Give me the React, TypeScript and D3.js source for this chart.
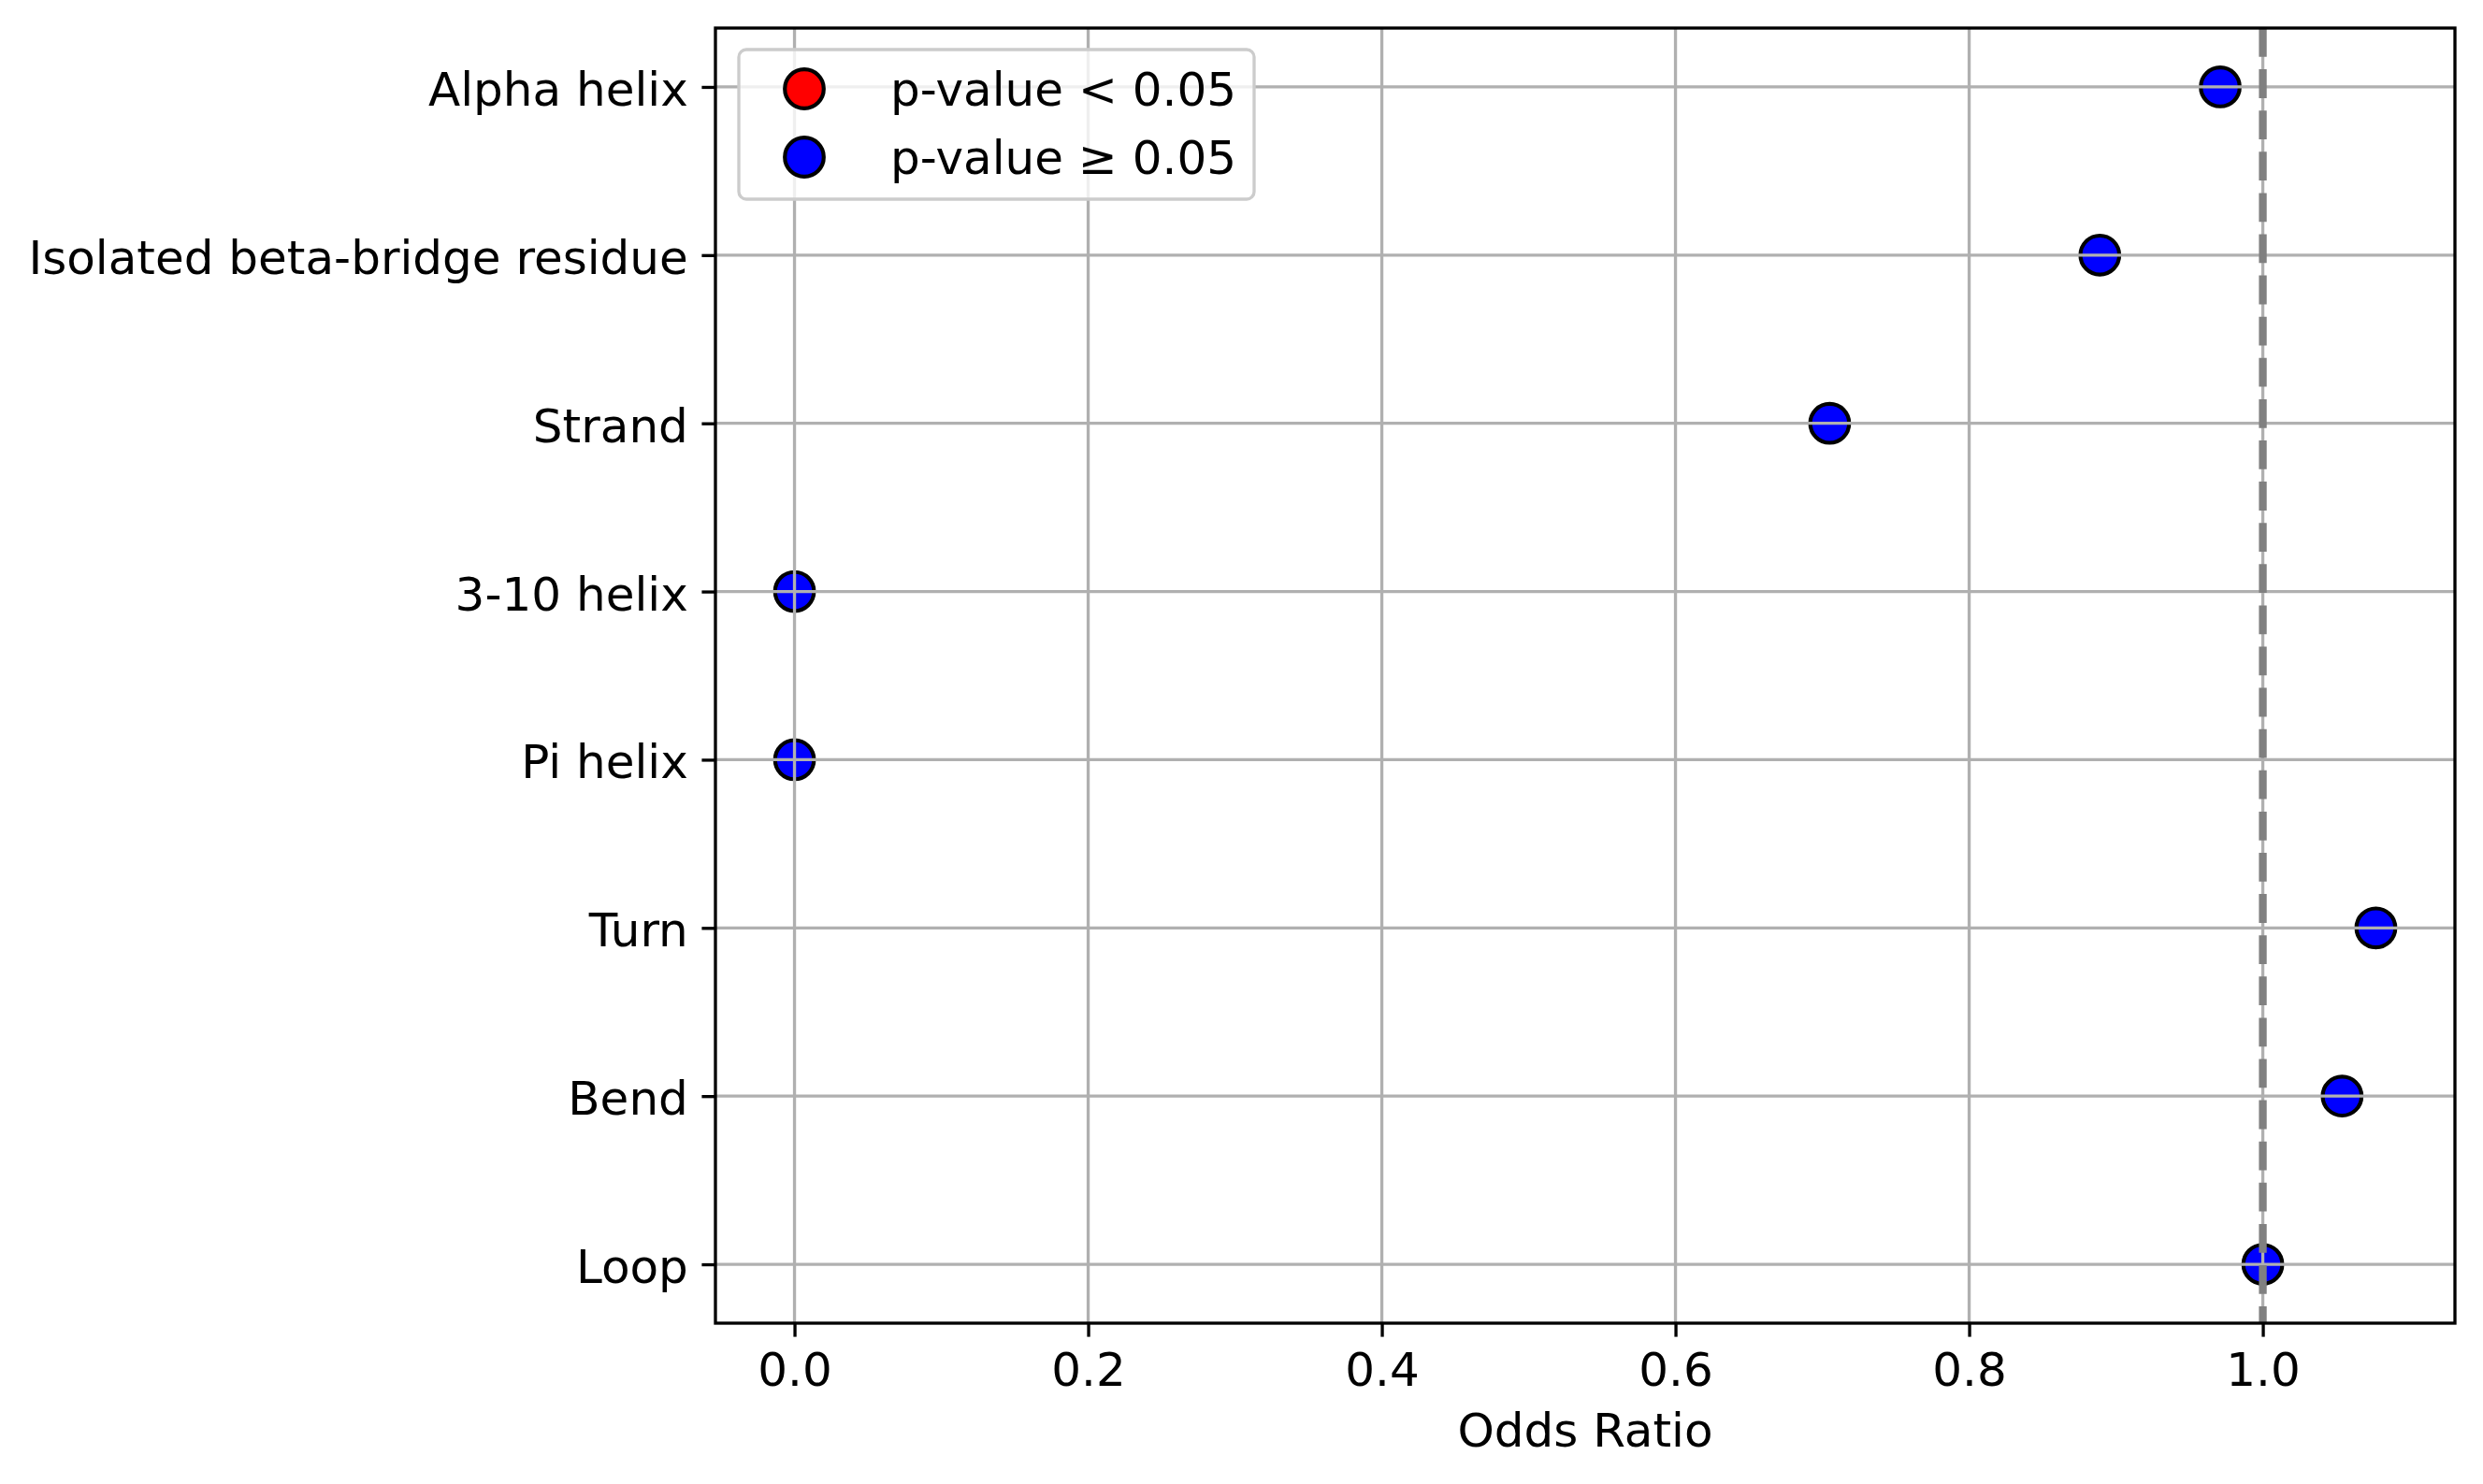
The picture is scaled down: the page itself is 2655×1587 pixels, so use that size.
import React, { useEffect, useRef } from "react";
import * as d3 from "d3";

// secondary structure categories, top to bottom
const categories = [
  "Alpha helix",
  "Isolated beta-bridge residue",
  "Strand",
  "3-10 helix",
  "Pi helix",
  "Turn",
  "Bend",
  "Loop",
];
const oddsRatios = [0.971, 0.889, 0.705, 0, 0, 1.077, 1.054, 1.0];
const significant = [false, false, false, false, false, false, false, false];

const xTickValues = [0, 0.2, 0.4, 0.6, 0.8, 1.0];
const referenceLine = 1.0;
const legendLabels = ["p-value < 0.05", "p-value \u2265 0.05"];
const legendColors = ["#ff0000", "#0000ff"];

const W = 2655;
const H = 1587;
const margin = { top: 30, right: 30, bottom: 172, left: 765 };
const font = "'DejaVu Sans', sans-serif";
const fs = 50;
const lw = 3.33;
const tickLen = 14.6;

const App: React.FC = () => {
  const svgRef = useRef<SVGSVGElement | null>(null);

  useEffect(() => {
    if (!svgRef.current) return;
    const svg = d3.select(svgRef.current);
    svg.selectAll("*").remove();

    const x0 = margin.left;
    const x1 = W - margin.right;
    const y0 = margin.top;
    const y1 = H - margin.bottom;

    const [mn, mx] = d3.extent(oddsRatios) as [number, number];
    const pad = (mx - mn) * 0.05;
    const xScale = d3.scaleLinear().domain([mn - pad, mx + pad]).range([x0, x1]);
    const yScale = d3.scalePoint<string>().domain(categories).range([y0, y1]).padding(0.35);

    const data = categories.map((c, i) => ({ c, v: oddsRatios[i], sig: significant[i] }));

    // markers (matplotlib draws them under the grid)
    svg
      .append("g")
      .selectAll("circle")
      .data(data)
      .join("circle")
      .attr("cx", d => xScale(d.v))
      .attr("cy", d => yScale(d.c) as number)
      .attr("r", 20.8)
      .attr("fill", d => (d.sig ? legendColors[0] : legendColors[1]))
      .attr("stroke", "#000")
      .attr("stroke-width", 4.2);

    // grid
    const grid = svg.append("g").attr("stroke", "#b0b0b0").attr("stroke-width", lw);
    grid
      .selectAll("line.vx")
      .data(xTickValues)
      .join("line")
      .attr("class", "vx")
      .attr("x1", d => xScale(d))
      .attr("x2", d => xScale(d))
      .attr("y1", y0)
      .attr("y2", y1);
    grid
      .selectAll("line.hy")
      .data(categories)
      .join("line")
      .attr("class", "hy")
      .attr("x1", x0)
      .attr("x2", x1)
      .attr("y1", d => yScale(d) as number)
      .attr("y2", d => yScale(d) as number);

    // reference line at OR = 1
    svg
      .append("line")
      .attr("x1", xScale(referenceLine))
      .attr("x2", xScale(referenceLine))
      .attr("y1", y0)
      .attr("y2", y1)
      .attr("stroke", "#808080")
      .attr("stroke-width", 8.3)
      .attr("stroke-dasharray", "30.8,13.3");

    // axes
    const xAxis = d3
      .axisBottom(xScale)
      .tickValues(xTickValues)
      .tickSize(tickLen)
      .tickFormat(d3.format(".1f"));
    const gx = svg.append("g").attr("transform", `translate(0,${y1})`).call(xAxis);
    gx.select(".domain").remove();
    gx.selectAll(".tick line").attr("stroke", "#000").attr("stroke-width", lw);
    gx.selectAll(".tick text")
      .attr("y", 67)
      .attr("dy", 0)
      .attr("fill", "#000")
      .style("font-family", font)
      .style("font-size", `${fs}px`);

    const yAxis = d3.axisLeft(yScale).tickSize(tickLen).tickPadding(tickLen);
    const gy = svg.append("g").attr("transform", `translate(${x0},0)`).call(yAxis);
    gy.select(".domain").remove();
    gy.selectAll(".tick line").attr("stroke", "#000").attr("stroke-width", lw);
    gy.selectAll(".tick text")
      .attr("dy", "0.39em")
      .attr("fill", "#000")
      .style("font-family", font)
      .style("font-size", `${fs}px`);

    // spines
    svg
      .append("rect")
      .attr("x", x0)
      .attr("y", y0)
      .attr("width", x1 - x0)
      .attr("height", y1 - y0)
      .attr("fill", "none")
      .attr("stroke", "#000")
      .attr("stroke-width", lw);

    svg
      .append("text")
      .attr("x", (x0 + x1) / 2)
      .attr("y", 1547)
      .attr("text-anchor", "middle")
      .style("font-family", font)
      .style("font-size", `${fs}px`)
      .attr("fill", "#000")
      .text("Odds Ratio");

    // legend
    const lg = svg.append("g");
    lg.append("rect")
      .attr("x", 790)
      .attr("y", 53)
      .attr("width", 551)
      .attr("height", 160)
      .attr("rx", 8)
      .attr("fill", "#fff")
      .attr("fill-opacity", 0.8)
      .attr("stroke", "#cccccc")
      .attr("stroke-width", lw);
    legendLabels.forEach((label, i) => {
      const cy = 95 + i * 73;
      lg.append("circle")
        .attr("cx", 860)
        .attr("cy", cy)
        .attr("r", 20.8)
        .attr("fill", legendColors[i])
        .attr("stroke", "#000")
        .attr("stroke-width", 4.2);
      lg.append("text")
        .attr("x", 952)
        .attr("y", cy)
        .attr("dy", "0.36em")
        .style("font-family", font)
        .style("font-size", `${fs}px`)
        .attr("fill", "#000")
        .text(label);
    });
  }, []);

  return (
    <svg
      ref={svgRef}
      width={W}
      height={H}
      style={{ position: "absolute", left: 0, top: 0, background: "#fff", display: "block" }}
    />
  );
};

export default App;
